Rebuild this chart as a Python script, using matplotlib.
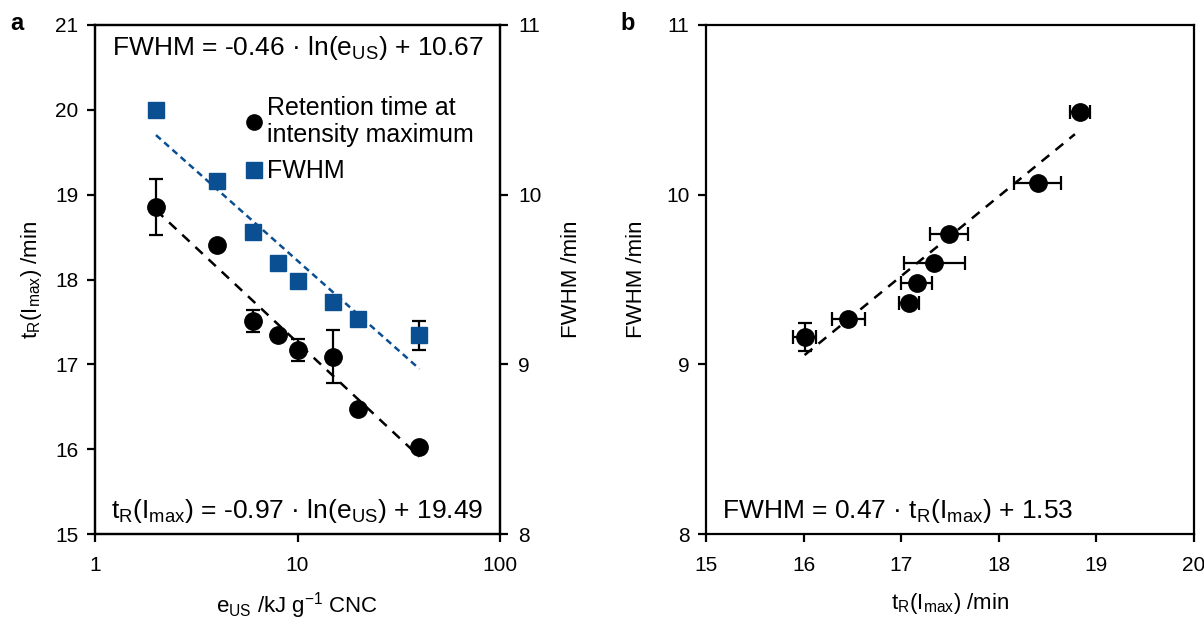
import numpy as np
import matplotlib
matplotlib.use("Agg")
import matplotlib.pyplot as plt
from matplotlib.lines import Line2D

plt.rcParams['font.family'] = ['Liberation Sans', 'DejaVu Sans']
plt.rcParams['mathtext.fontset'] = 'custom'
plt.rcParams['mathtext.rm'] = 'Liberation Sans'
plt.rcParams['mathtext.it'] = 'Liberation Sans'
plt.rcParams['mathtext.bf'] = 'Liberation Sans:bold'

# ---- data ----
e_us = [2, 4, 6, 8, 10, 15, 20, 40]
tR = [18.85, 18.41, 17.51, 17.35, 17.17, 17.09, 16.47, 16.02]
tR_err = [0.33, 0, 0.13, 0, 0.13, 0.31, 0, 0]
fwhm_a = [10.50, 10.08, 9.78, 9.60, 9.49, 9.37, 9.27, 9.17]
fwhm_a_err = [0, 0, 0, 0, 0, 0, 0, 0.083]

tR_b = [16.01, 16.46, 17.08, 17.16, 17.34, 17.49, 18.40, 18.83]
fwhm_b = [9.16, 9.27, 9.36, 9.48, 9.60, 9.77, 10.07, 10.49]
tR_b_err = [0.12, 0.17, 0.10, 0.16, 0.31, 0.19, 0.24, 0.10]
fwhm_b_err = [0.084, 0, 0, 0, 0, 0, 0, 0]

fit_a_t = (-0.97, 19.49)
fit_a_f = (-0.46, 10.67)
fit_b = (0.47, 1.53)

xticks_a = [1, 10, 100]
yticks_a = [15, 16, 17, 18, 19, 20, 21]
yticks_a2 = [8, 9, 10, 11]
xticks_b = [15, 16, 17, 18, 19, 20]
yticks_b = [8, 9, 10, 11]

BLUE = '#0b4f93'
TICK_FS = 15
LAB_FS = 16
ANN_FS = 19

fig = plt.figure(figsize=(12.04, 6.19), dpi=100)
W, H = 1204, 619
def rect(l, r, t, b):
    return [l / W, 1 - b / H, (r - l) / W, (b - t) / H]

def style(ax):
    for s in ax.spines.values():
        s.set_linewidth(1.6)
    ax.tick_params(direction='out', length=6, width=1.6, labelsize=TICK_FS, pad=6)

# ---- panel a ----
ax = fig.add_axes(rect(95, 500, 25, 534))
ax.set_xscale('log')
ax.set_xlim(1, 100)
ax.set_ylim(15, 21)
ax.set_xticks(xticks_a)
ax.set_xticklabels([str(v) for v in xticks_a])
ax.xaxis.set_minor_locator(matplotlib.ticker.NullLocator())
ax.set_yticks(yticks_a)
style(ax)
ax.tick_params(axis='x', pad=10)

ax2 = ax.twinx()
ax2.set_ylim(8, 11)
ax2.set_yticks(yticks_a2)
style(ax2)
ax2.tick_params(axis='y', pad=7)

ex = np.array(e_us, dtype=float)
xfit = np.linspace(min(e_us), max(e_us), 200)
ax.plot(xfit, fit_a_t[0] * np.log(xfit) + fit_a_t[1], ls=(0, (4, 3.2)), color='black', lw=1.8, zorder=2)
ax2.plot(xfit, fit_a_f[0] * np.log(xfit) + fit_a_f[1], ls=(0, (2.6, 1.8)), color=BLUE, lw=1.8, zorder=2)

m = np.array(tR_err) > 0
ax.errorbar(ex[m], np.array(tR)[m], yerr=np.array(tR_err)[m], fmt='none', ecolor='black',
            elinewidth=1.6, capsize=5, capthick=1.6, zorder=3)
ax.plot(e_us, tR, 'o', color='black', ms=12.5, zorder=4)

m2 = np.array(fwhm_a_err) > 0
ax2.errorbar(ex[m2], np.array(fwhm_a)[m2], yerr=np.array(fwhm_a_err)[m2], fmt='none', ecolor='black',
             elinewidth=1.6, capsize=5, capthick=1.6, zorder=3)
ax2.plot(e_us, fwhm_a, 's', color=BLUE, ms=12, zorder=4)

ax.set_xlabel('e$_{\\mathrm{US}}$ /kJ g$^{\\mathrm{-1}}$ CNC', fontsize=LAB_FS, labelpad=11)
ax.set_ylabel('t$_{\\mathrm{R}}$(I$_{\\mathrm{max}}$) /min', fontsize=LAB_FS, labelpad=8)
ax2.set_ylabel('FWHM /min', fontsize=LAB_FS, labelpad=14)

ax.text(0.5, 0.955, 'FWHM = -0.46 · ln(e$_{\\mathrm{US}}$) + 10.67', transform=ax.transAxes,
        ha='center', va='center', fontsize=ANN_FS)
ax.text(0.5, 0.045, 't$_{\\mathrm{R}}$(I$_{\\mathrm{max}}$) = -0.97 · ln(e$_{\\mathrm{US}}$) + 19.49',
        transform=ax.transAxes, ha='center', va='center', fontsize=ANN_FS)

handles = [Line2D([], [], marker='o', color='black', ls='none', ms=11),
           Line2D([], [], marker='s', color=BLUE, ls='none', ms=11)]
leg = ax2.legend(handles, ['Retention time at\nintensity maximum', 'FWHM'], loc='upper left',
                 bbox_to_anchor=(0.35, 0.88), frameon=False, fontsize=18, handlelength=0.6,
                 handletextpad=0.2, labelspacing=0.5, borderaxespad=0)
for t in leg.get_texts():
    t.set_linespacing(1.15)

fig.text(10 / W, 1 - 24 / H, 'a', fontsize=17, fontweight='bold', ha='left', va='center')

# ---- panel b ----
bx = fig.add_axes(rect(706, 1194, 25, 534))
bx.set_xlim(15, 20)
bx.set_ylim(8, 11)
bx.set_xticks(xticks_b)
bx.set_yticks(yticks_b)
style(bx)
bx.tick_params(axis='x', pad=10)

xb = np.linspace(min(tR_b), max(tR_b) - 0.05, 100)
bx.plot(xb, fit_b[0] * xb + fit_b[1], ls=(0, (4, 3.2)), color='black', lw=1.8, zorder=2)
tb = np.array(tR_b); fb = np.array(fwhm_b)
bx.errorbar(tb, fb, xerr=np.array(tR_b_err), fmt='none', ecolor='black',
            elinewidth=1.6, capsize=5, capthick=1.6, zorder=3)
mb = np.array(fwhm_b_err) > 0
bx.errorbar(tb[mb], fb[mb], yerr=np.array(fwhm_b_err)[mb], fmt='none', ecolor='black',
            elinewidth=1.6, capsize=5, capthick=1.6, zorder=3)
bx.plot(tR_b, fwhm_b, 'o', color='black', ms=12.5, zorder=4)

bx.set_xlabel('t$_{\\mathrm{R}}$(I$_{\\mathrm{max}}$) /min', fontsize=LAB_FS, labelpad=11)
bx.set_ylabel('FWHM /min', fontsize=LAB_FS, labelpad=14)
bx.text(0.033, 0.045, 'FWHM = 0.47 · t$_{\\mathrm{R}}$(I$_{\\mathrm{max}}$) + 1.53', transform=bx.transAxes,
        ha='left', va='center', fontsize=ANN_FS)

fig.text(620 / W, 1 - 24 / H, 'b', fontsize=17, fontweight='bold', ha='left', va='center')

fig.savefig('out.png', dpi=100)
